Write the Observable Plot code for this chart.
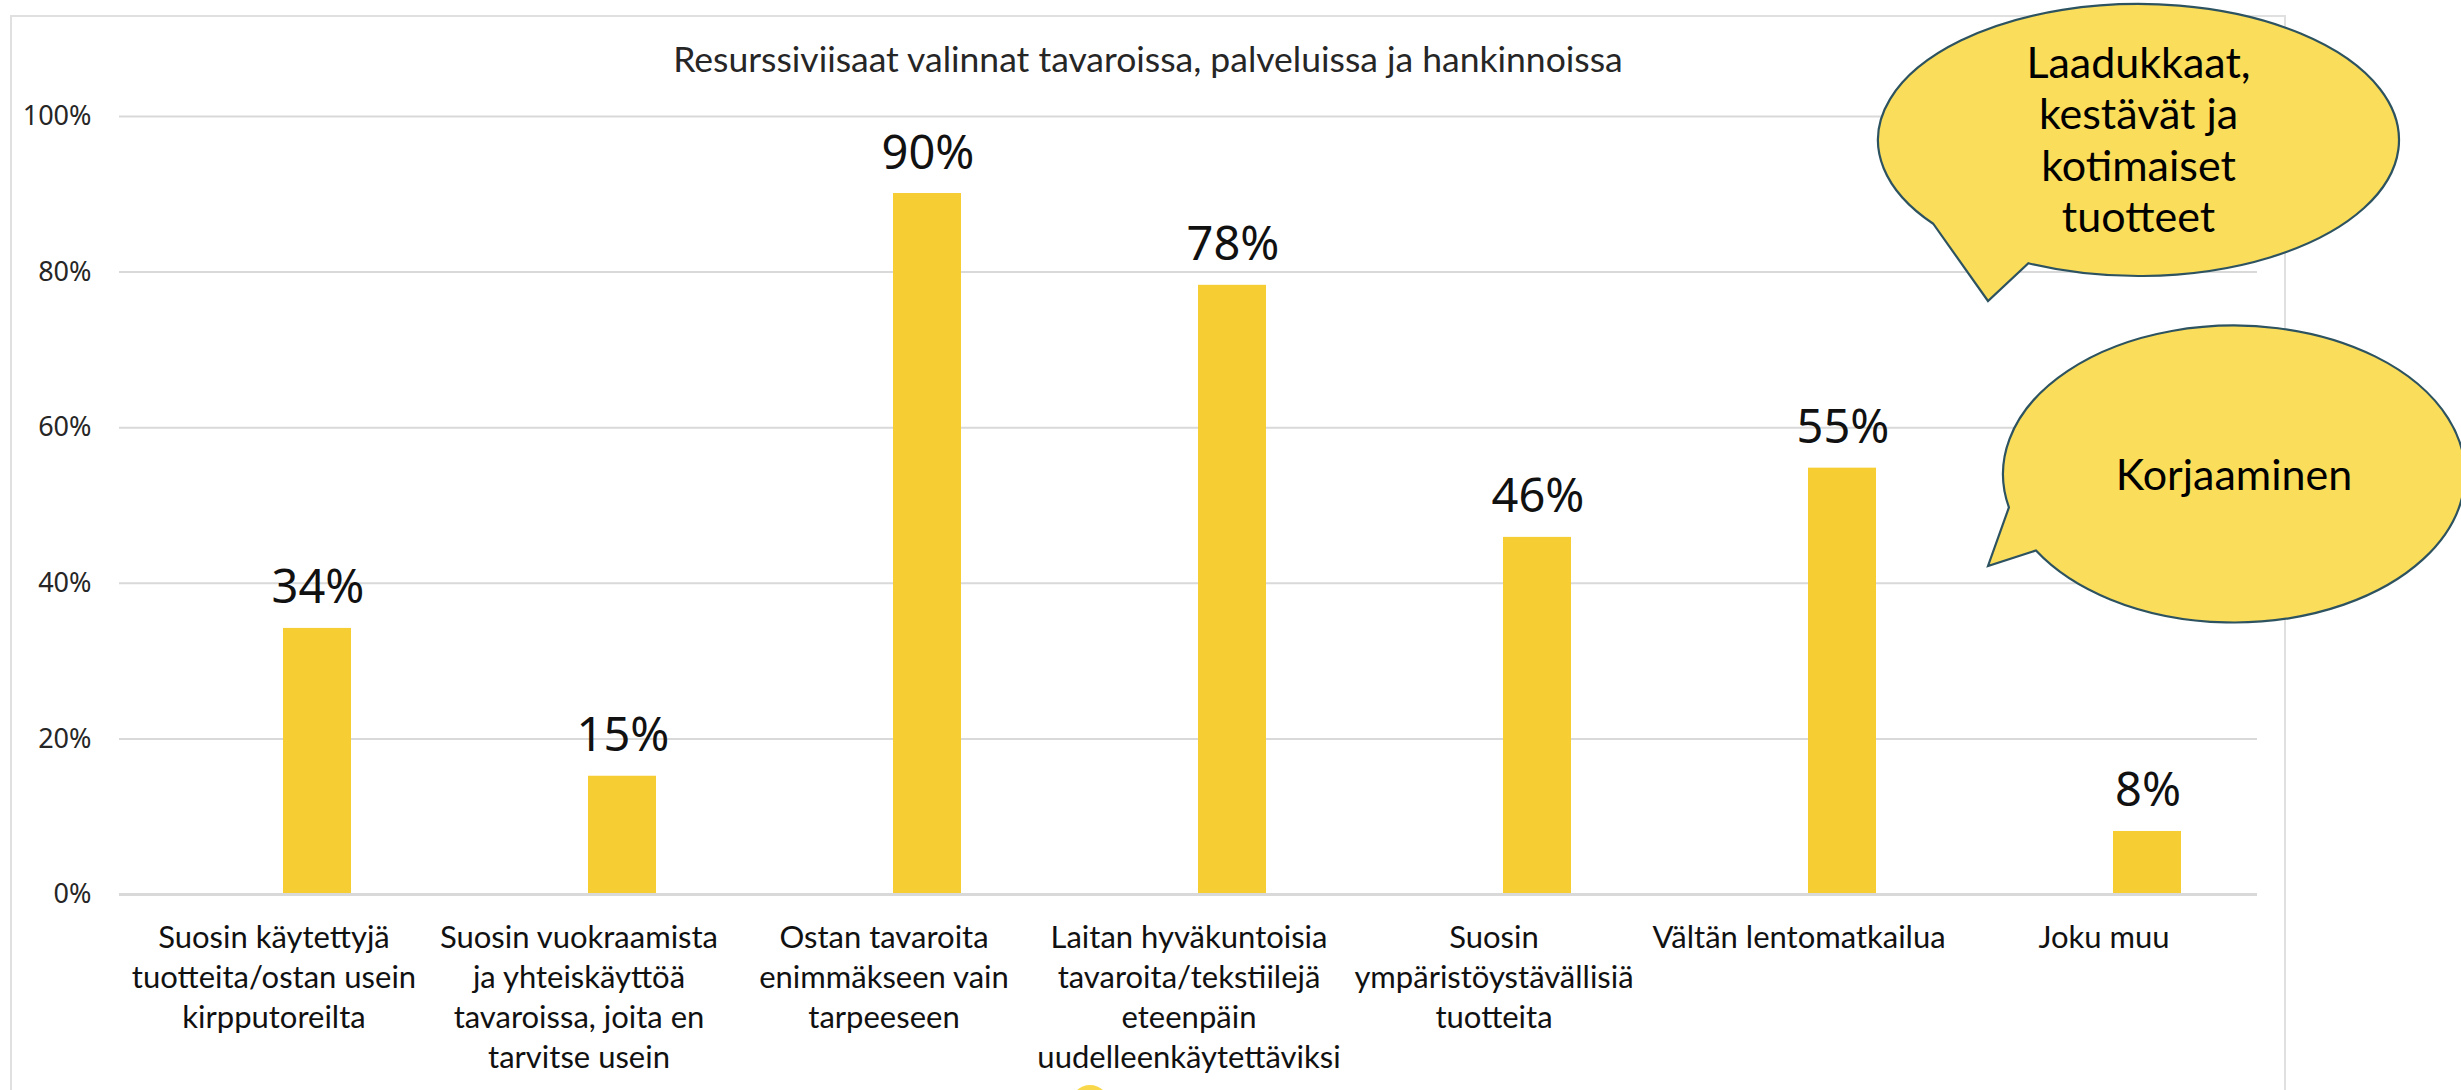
<!DOCTYPE html>
<html>
<head>
<meta charset="utf-8">
<script src="https://cdn.jsdelivr.net/npm/d3@7"></script>
<script src="https://cdn.jsdelivr.net/npm/@observablehq/plot@0.6"></script>
<style>
  html, body { margin: 0; padding: 0; background: #ffffff; }
  #wrap { position: relative; width: 2461px; height: 1090px; overflow: hidden; background: #ffffff; }
  #frame { position: absolute; left: 10px; top: 15px; width: 2276px; height: 1100px; border: 2px solid #e0e0e0; box-sizing: border-box; }
  #chart { position: absolute; left: 0; top: 0; }
  #overlay { position: absolute; left: 0; top: 0; }
</style>
</head>
<body>
<div id="wrap">
  <div id="frame"></div>
  <div id="chart"></div>
  <svg id="overlay" width="2461" height="1090"></svg>
</div>
<script>
// ---- data ----
const titleText = "Resurssiviisaat valinnat tavaroissa, palveluissa ja hankinnoissa";
const categories = [
  "Suosin käytettyjä tuotteita/ostan usein kirpputoreilta",
  "Suosin vuokraamista ja yhteiskäyttöä tavaroissa, joita en tarvitse usein",
  "Ostan tavaroita enimmäkseen vain tarpeeseen",
  "Laitan hyväkuntoisia tavaroita/tekstiilejä eteenpäin uudelleenkäytettäviksi",
  "Suosin ympäristöystävällisiä tuotteita",
  "Vältän lentomatkailua",
  "Joku muu"
];
const categoryLines = [
  "Suosin käytettyjä\ntuotteita/ostan usein\nkirpputoreilta",
  "Suosin vuokraamista\nja yhteiskäyttöä\ntavaroissa, joita en\ntarvitse usein",
  "Ostan tavaroita\nenimmäkseen vain\ntarpeeseen",
  "Laitan hyväkuntoisia\ntavaroita/tekstiilejä\neteenpäin\nuudelleenkäytettäviksi",
  "Suosin\nympäristöystävällisiä\ntuotteita",
  "Vältän lentomatkailua",
  "Joku muu"
];
const values = [0.342, 0.152, 0.901, 0.783, 0.459, 0.548, 0.081];
const yTicks = [0, 0.2, 0.4, 0.6, 0.8, 1.0];
const callouts = [
  "Laadukkaat,\nkestävät ja\nkotimaiset\ntuotteet",
  "Korjaaminen"
];

// ---- table ----
const data = categories.map((c, i) => ({category: c, lines: categoryLines[i], value: values[i]}));
const pct = d3.format(".0%");
const labelFont = "Lato, 'Noto Sans', sans-serif";

const chart = Plot.plot({
  width: 2461,
  height: 1090,
  marginLeft: 119,
  marginRight: 204,
  marginTop: 116,
  marginBottom: 196,
  style: {background: "transparent", fontFamily: "'Noto Sans', sans-serif", fontSize: "27px", color: "#262626"},
  x: {domain: categories, padding: 0, axis: null},
  y: {domain: [0, 1], axis: null},
  marks: [
    Plot.gridY(yTicks.filter(t => t > 0), {stroke: "#d9d9d9", strokeOpacity: 1, strokeWidth: 2}),
    Plot.axisY(yTicks, {tickFormat: pct, tickSize: 0, tickPadding: 28, fontSize: 27, fill: "#262626", label: null}),
    Plot.barY(data, {x: "category", y: "value", fill: "#F6CD32", insetLeft: 162, insetRight: 75}),
    Plot.ruleY([0], {stroke: "#d9d9d9", strokeWidth: 3}),
    Plot.text(data, {x: "category", y: "value", text: d => pct(d.value), dx: 44, dy: -25, lineAnchor: "bottom", fontSize: 47, fill: "#111111"}),
    Plot.text(data, {x: "category", text: "lines", frameAnchor: "bottom", lineAnchor: "top", dy: 25, fontSize: 31, lineHeight: 40 / 31, fontFamily: labelFont, fill: "#111111"})
  ]
});
document.getElementById("chart").appendChild(chart);

const svg = d3.select("#overlay");
// title
svg.append("text").attr("x", 1148).attr("y", 72).attr("text-anchor", "middle")
  .attr("font-family", labelFont).attr("font-size", 35.5).attr("fill", "#262626")
  .text(titleText);

// ---- speech-bubble callouts (decoration) ----
function bubblePath(cx, cy, rx, ry, a1, a2, tip, sweep) {
  const p = a => [cx + rx * Math.cos(a * Math.PI / 180), cy + ry * Math.sin(a * Math.PI / 180)];
  const s = p(a1), e = p(a2);
  return `M${s[0]},${s[1]} A${rx},${ry} 0 1 ${sweep} ${e[0]},${e[1]} L${tip[0]},${tip[1]} Z`;
}
const bubbleFill = "#FADD5B", bubbleStroke = "#2D5361";
// bubble 1
const b1 = {cx: 2138.5, cy: 140, rx: 260.5, ry: 136};
svg.append("path")
  .attr("d", bubblePath(b1.cx, b1.cy, b1.rx, b1.ry, 115, 142, [1988, 301], 0))
  .attr("fill", bubbleFill).attr("stroke", bubbleStroke).attr("stroke-width", 2.2);
const t1 = svg.append("text").attr("x", b1.cx).attr("text-anchor", "middle")
  .attr("font-family", labelFont).attr("font-size", 43).attr("fill", "#000");
callouts[0].split("\n").forEach((ln, i) => t1.append("tspan").attr("x", b1.cx).attr("y", 78 + i * 51.3).text(ln));
// bubble 2
const b2 = {cx: 2234, cy: 474, rx: 231, ry: 148.5};
svg.append("path")
  .attr("d", bubblePath(b2.cx, b2.cy, b2.rx, b2.ry, 167, 149, [1988, 566], 1))
  .attr("fill", bubbleFill).attr("stroke", bubbleStroke).attr("stroke-width", 2.2);
svg.append("text").attr("x", b2.cx).attr("y", 490).attr("text-anchor", "middle")
  .attr("font-family", labelFont).attr("font-size", 43).attr("fill", "#000")
  .text(callouts[1]);
// small partly hidden marker at the bottom edge
svg.append("circle").attr("cx", 1090).attr("cy", 1104).attr("r", 19).attr("fill", "#F8D84A");
</script>
</body>
</html>
